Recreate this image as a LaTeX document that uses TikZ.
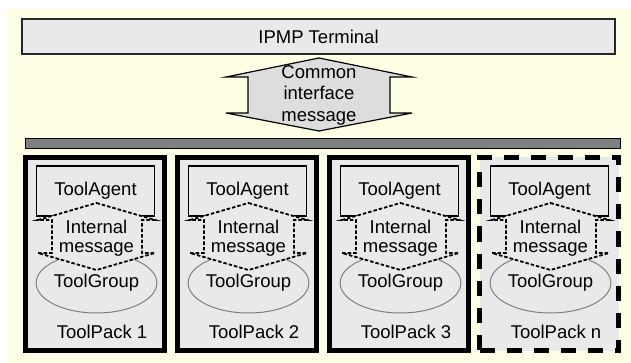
\documentclass[tikz,border=0pt]{standalone}
\usepackage{fontspec}
\setmainfont{Liberation Sans}
\usetikzlibrary{shapes.geometric}

\definecolor{bgyellow}{HTML}{FFFFE5}
\definecolor{boxgray}{HTML}{E9E9E9}
\definecolor{arrowgray}{HTML}{DDDDDD}
\definecolor{bargray}{HTML}{808080}

\tikzset{
  txt/.style={font=\fontsize{18.5}{21.5}\selectfont, align=center, inner sep=0pt},
  tighttxt/.style={txt, font=\fontsize{18.5}{19}\selectfont},
  termbox/.style={txt, draw=black!85, line width=1.2pt, fill=boxgray, minimum width=593pt, minimum height=35pt},
  busbar/.style={draw=black, line width=1pt, fill=bargray, minimum width=595pt, minimum height=10pt, inner sep=0pt},
  packbox/.style={draw=black, line width=5pt, fill=boxgray, minimum width=139pt, minimum height=193pt, inner sep=0pt},
  packdashed/.style={packbox, dash pattern=on 15pt off 12pt},
  agentbox/.style={txt, draw=black, line width=1.2pt, fill=boxgray, minimum width=118pt, minimum height=50pt},
  groupshape/.style={txt, ellipse, draw=bargray, line width=1pt, minimum width=107pt, minimum height=60pt},
  msgline/.style={draw=black, line width=1.8pt, dash pattern=on 3.5pt off 2pt, fill=boxgray},
}

\begin{document}
\begin{tikzpicture}[x=1pt,y=-1pt]
  \useasboundingbox (0,0) rectangle (631,363);
  \fill[bgyellow] (7,9) rectangle (631,363);

  \node[termbox] (terminal) at (318.5,36.5) {IPMP Terminal};

  % common interface arrow
  \draw[fill=arrowgray, line width=1.2pt] (319,58) -- (412,77) -- (390,77) -- (390,113) -- (412,113)
    -- (319,131) -- (226,113) -- (248,113) -- (248,77) -- (226,77) -- cycle;
  \node[txt] (common) at (319,95) {Common\\interface\\message};

  \node[busbar] (bus) at (322.5,143.5) {};

  % tool packs
  \foreach \i/\x/\lab/\sty in {1/23/1/packbox, 2/175/2/packbox, 3/327/3/packbox, n/477/n/packdashed} {
    \node[\sty] (pack\i) at (\x+72,254) {};
    \node[agentbox] (agent\i) at (\x+72.5,191) {ToolAgent};
    \node[groupshape] (group\i) at (\x+73.5,283) {ToolGroup};
    \draw[msgline] (\x+73.5,203) -- (\x+132,220) -- (\x+119,220) -- (\x+119,253) -- (\x+132,253)
      -- (\x+73.5,270) -- (\x+15,253) -- (\x+29,253) -- (\x+29,220) -- (\x+15,220) -- cycle;
    \node[tighttxt] (internal\i) at (\x+73.5,238) {Internal\\message};
    \node[txt] (name\i) at (\x+79,332) {ToolPack \lab};
  }
\end{tikzpicture}
\end{document}
